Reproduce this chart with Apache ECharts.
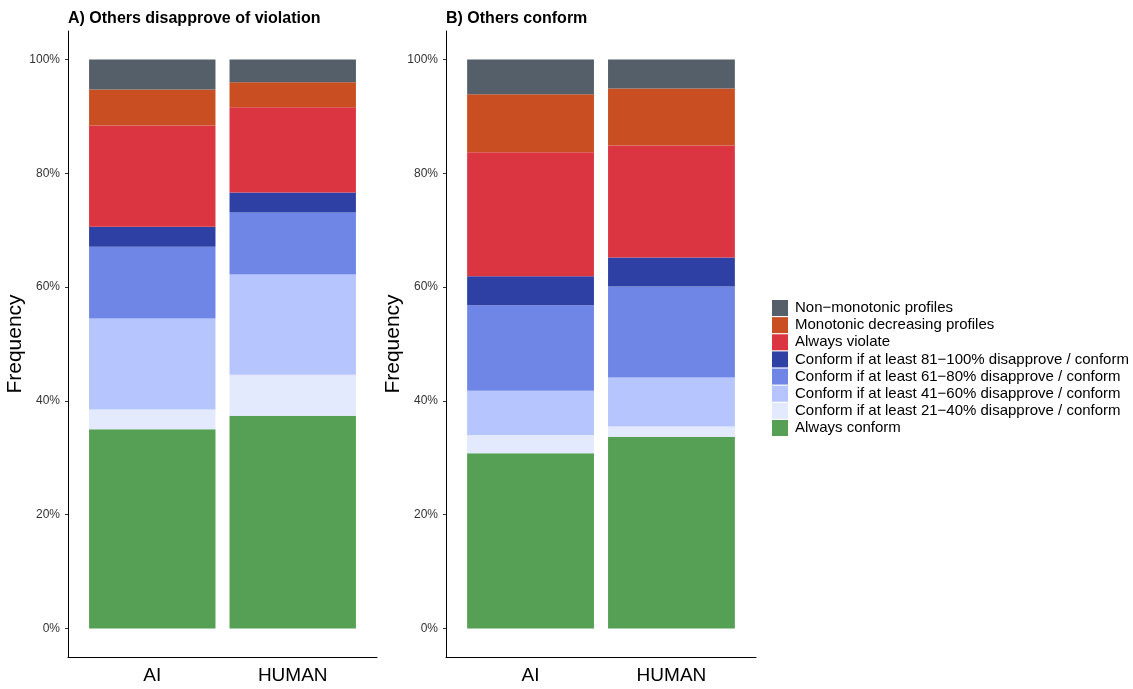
<!DOCTYPE html>
<html>
<head>
<meta charset="utf-8">
<script src="https://cdn.jsdelivr.net/npm/echarts@6/dist/echarts.min.js"></script>
<style>
html,body{margin:0;padding:0;background:#fff;}
#chart{width:1133px;height:689px;}
</style>
</head>
<body>
<div id="chart"></div>
<script>
const categories = ['AI', 'HUMAN'];
const panelTitles = ['A) Others disapprove of violation', 'B) Others conform'];
// bottom-to-top stacking order
const groups = [
  'Always conform',
  'Conform if at least 21\u221240% disapprove / conform',
  'Conform if at least 41\u221260% disapprove / conform',
  'Conform if at least 61\u221280% disapprove / conform',
  'Conform if at least 81\u2212100% disapprove / conform',
  'Always violate',
  'Monotonic decreasing profiles',
  'Non\u2212monotonic profiles'
];
const groupColors = ['#55a054', '#e4eafe', '#b6c5fd', '#6f86e6', '#2f40a5', '#dc3542', '#c94e22', '#555f69'];
const panelA_AI    = [35.0, 3.5, 16.0, 12.6, 3.5, 17.8, 6.3, 5.3];
const panelA_HUMAN = [37.4, 7.2, 17.6, 10.9, 3.5, 15.0, 4.4, 4.0];
const panelB_AI    = [30.8, 3.2, 7.8, 15.0, 5.1, 21.8, 10.2, 6.1];
const panelB_HUMAN = [33.7, 1.8, 8.6, 16.0, 5.1, 19.7, 10.0, 5.1];
const yTicks = [0, 20, 40, 60, 80, 100];

const panels = [[panelA_AI, panelA_HUMAN], [panelB_AI, panelB_HUMAN]];
const FONT = 'Liberation Sans, Arial, sans-serif';
const Y_MIN = -5, Y_MAX = 105;

// outer grids carry the axis lines (ggplot-style 0.6 band expansion on each side)
const outer = [
  {left: 68, top: 31, width: 309, height: 626, outerBoundsMode: 'none', containLabel: false},
  {left: 446, top: 31, width: 310, height: 626, outerBoundsMode: 'none', containLabel: false}
];
// inner grids hold the category bands
const inner = outer.map(g => {
  const band = g.width / 2.2;
  return {left: g.left + 0.1 * band, top: g.top, width: 2 * band, height: g.height,
          outerBoundsMode: 'none', containLabel: false};
});
const grids = outer.concat(inner);

const xAxes = [];
const yAxes = [];
outer.forEach((g, i) => {
  xAxes.push({
    type: 'value', gridIndex: i, min: 0, max: 1,
    axisLine: {show: true, onZero: false, lineStyle: {color: '#000', width: 1}},
    axisTick: {show: false}, axisLabel: {show: false}, splitLine: {show: false}
  });
  yAxes.push({
    type: 'value', gridIndex: i, min: Y_MIN, max: Y_MAX, interval: 5,
    name: 'Frequency', nameLocation: 'middle', nameRotate: 90, nameGap: 37,
    nameTextStyle: {fontSize: 21, color: '#000', fontFamily: FONT},
    axisLine: {show: true, onZero: false, lineStyle: {color: '#000', width: 1}},
    axisTick: {show: true, length: 3, customValues: yTicks, lineStyle: {color: '#333'}},
    splitLine: {show: false},
    axisLabel: {
      customValues: yTicks,
      formatter: v => v + '%',
      fontSize: 12, color: '#333', fontFamily: FONT, margin: 8
    }
  });
});
inner.forEach((g, i) => {
  xAxes.push({
    type: 'category', gridIndex: 2 + i, data: categories,
    axisLine: {show: false, onZero: false}, axisTick: {show: false}, splitLine: {show: false},
    axisLabel: {fontSize: 19, color: '#000', fontFamily: FONT, margin: 9}
  });
  yAxes.push({
    type: 'value', gridIndex: 2 + i, min: Y_MIN, max: Y_MAX, interval: 5,
    axisLine: {show: false}, axisTick: {show: false}, axisLabel: {show: false},
    splitLine: {show: false}
  });
});

const series = [];
panels.forEach((p, pi) => {
  groups.forEach((name, gi) => {
    series.push({
      name: name, type: 'bar', stack: 'p' + pi,
      xAxisIndex: 2 + pi, yAxisIndex: 2 + pi,
      barWidth: '90%',
      itemStyle: {color: groupColors[gi]},
      emphasis: {disabled: true},
      data: categories.map((c, ci) => p[ci][gi])
    });
  });
});

const chart = echarts.init(document.getElementById('chart'), null, {renderer: 'canvas'});
chart.setOption({
  animation: false,
  backgroundColor: '#fff',
  title: panelTitles.map((t, i) => ({
    text: t, left: outer[i].left, top: 11, padding: 0,
    textStyle: {fontSize: 16, fontWeight: 'bold', color: '#000', fontFamily: FONT}
  })),
  legend: {
    orient: 'vertical', left: 772, top: 300, padding: 0,
    itemWidth: 16, itemHeight: 16, itemGap: 1.14,
    icon: 'rect',
    data: groups.slice().reverse(),
    textStyle: {fontSize: 15, color: '#000', fontFamily: FONT, lineHeight: 16, padding: [0, 0, 0, 2]},
    selectedMode: false
  },
  grid: grids,
  xAxis: xAxes,
  yAxis: yAxes,
  series: series
});
</script>
</body>
</html>
